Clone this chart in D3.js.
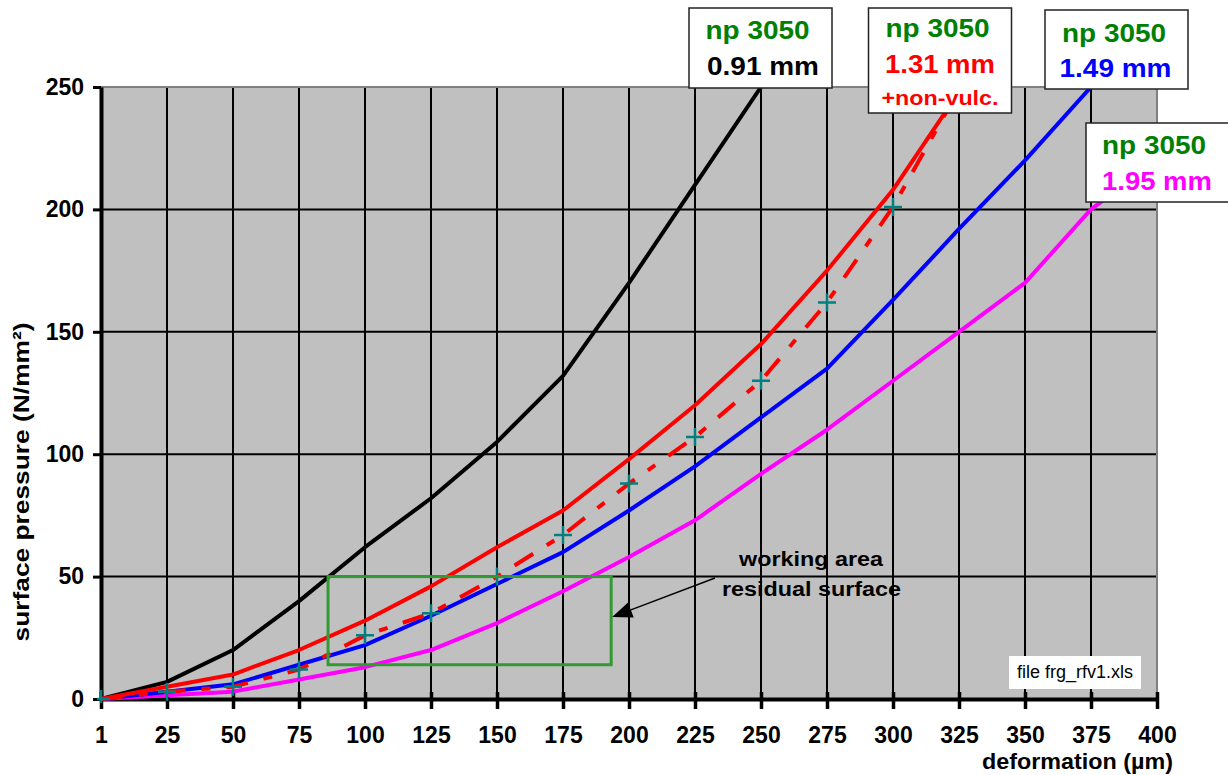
<!DOCTYPE html>
<html>
<head>
<meta charset="utf-8">
<script src="https://cdn.jsdelivr.net/npm/d3@7"></script>
<style>
  body { margin: 0; background: #fff; }
  svg { display: block; }
  text { font-family: "Liberation Sans", Arial, Helvetica, sans-serif; }
</style>
</head>
<body>
<svg id="chart" width="1228" height="775"></svg>
<script>
// deformation steps (µm), shown as evenly spaced categories
const categories = [1, 25, 50, 75, 100, 125, 150, 175, 200, 225, 250, 275, 300, 325, 350, 375, 400];
const yTicks = [0, 50, 100, 150, 200, 250];

// surface pressure (N/mm²) per deformation step, np 3050 samples
const thick091 = [0, 7, 20, 40, 62, 82, 105, 132, 170, 210, 250];
const thick131 = [0, 5, 10, 20, 32, 46, 62, 77, 98, 120, 145, 175, 208, 248];
const thick131NonVulc = [0, 3, 5, 12, 26, 35, 50, 67, 88, 107, 130, 162, 201, 249];
const thick149 = [0, 3, 6, 14, 22, 34, 47, 60, 77, 95, 115, 135, 163, 192, 220, 250];
const thick195 = [0, 1.5, 3, 8, 13, 20, 31, 44, 58, 73, 92, 110, 130, 150, 170, 200, 220];

// working area: category index span and pressure span
const workIdx = [3.44, 7.73];
const workPressure = [14, 50];

const svg = d3.select("#chart");
const plotL = 101, plotR = 1157, plotT = 87, plotB = 699;

const x = d3.scalePoint().domain(categories).range([plotL, plotR]);
const xi = d3.scaleLinear().domain([0, categories.length - 1]).range([plotL, plotR]);
const y = d3.scaleLinear().domain([0, 250]).range([plotB, plotT]);

// plot area
svg.append("rect")
  .attr("x", x(categories[0])).attr("y", y(250))
  .attr("width", x(categories[categories.length - 1]) - x(categories[0]))
  .attr("height", y(0) - y(250))
  .attr("fill", "#c0c0c0");

svg.append("defs").append("clipPath").attr("id", "plotClip")
  .append("rect")
  .attr("x", plotL - 4).attr("y", plotT)
  .attr("width", plotR - plotL + 4).attr("height", plotB - plotT + 4);

// grid
const grid = svg.append("g");
grid.selectAll("line.v").data(categories.slice(1, -1)).join("line")
  .attr("class", "v")
  .attr("x1", d => x(d)).attr("x2", d => x(d))
  .attr("y1", y(0)).attr("y2", y(250))
  .attr("stroke", "#000").attr("stroke-width", 2);
grid.selectAll("line.h").data(yTicks.slice(1, -1)).join("line")
  .attr("class", "h")
  .attr("x1", plotL).attr("x2", plotR)
  .attr("y1", d => y(d)).attr("y2", d => y(d))
  .attr("stroke", "#000").attr("stroke-width", 2);

// plot border (top and right)
svg.append("path")
  .attr("d", `M${plotL},${y(250)}H${plotR}V${y(0)}`)
  .attr("fill", "none").attr("stroke", "#808080").attr("stroke-width", 2);

// axes
const yAxis = svg.append("g").attr("transform", `translate(${plotL},0)`)
  .call(d3.axisLeft(y).tickValues(yTicks).tickSizeInner(8).tickSizeOuter(0).tickPadding(9));
yAxis.select(".domain").attr("stroke", "#000").attr("stroke-width", 4);
yAxis.selectAll(".tick line").attr("stroke", "#000").attr("stroke-width", 3);
yAxis.selectAll(".tick text")
  .attr("font-size", 23).attr("font-weight", "bold").attr("fill", "#000")
  .style("font-family", "'Liberation Sans', Arial, sans-serif");

const xAxis = svg.append("g").attr("transform", `translate(0,${plotB})`)
  .call(d3.axisBottom(x).tickSizeInner(9).tickSizeOuter(0));
xAxis.select(".domain").attr("stroke", "#000").attr("stroke-width", 4);
xAxis.selectAll(".tick line").attr("y1", -7).attr("y2", 10)
  .attr("stroke", "#000").attr("stroke-width", 3.5);
xAxis.selectAll(".tick text")
  .attr("y", 44).attr("dy", null)
  .attr("font-size", 23).attr("font-weight", "bold").attr("fill", "#000")
  .style("font-family", "'Liberation Sans', Arial, sans-serif");

// series
const line = d3.line().x((d, i) => x(categories[i])).y(d => y(d));
const series = svg.append("g").attr("clip-path", "url(#plotClip)");
const drawSeries = (vals, color, dash) => {
  const p = series.append("path").datum(vals)
    .attr("d", line)
    .attr("fill", "none")
    .attr("stroke", color)
    .attr("stroke-width", 4)
    .attr("stroke-linejoin", "round");
  if (dash) p.attr("stroke-dasharray", dash);
  return p;
};
drawSeries(thick091, "#000000");
drawSeries(thick195, "#ff00ff");
drawSeries(thick149, "#0000ff");
drawSeries(thick131, "#ff0000");
drawSeries(thick131NonVulc, "#ff0000", "22,16,9,16");

// "+" markers on the non-vulcanised series
series.selectAll("path.mark").data(thick131NonVulc).join("path")
  .attr("class", "mark")
  .attr("transform", (d, i) => `translate(${x(categories[i])},${y(d)})`)
  .attr("d", "M-9,0H9M0,-9V9")
  .attr("stroke", "#008080").attr("stroke-width", 2.5).attr("fill", "none");

// axis titles
svg.append("text")
  .attr("x", 1173).attr("y", 769)
  .attr("text-anchor", "end")
  .attr("font-size", 22).attr("font-weight", "bold")
  .attr("textLength", 191).attr("lengthAdjust", "spacingAndGlyphs")
  .text("deformation (µm)");

svg.append("text")
  .attr("transform", `translate(29,482) rotate(-90)`)
  .attr("text-anchor", "middle")
  .attr("font-size", 22).attr("font-weight", "bold")
  .attr("textLength", 319).attr("lengthAdjust", "spacingAndGlyphs")
  .text("surface pressure (N/mm²)");

// working area rectangle
svg.append("rect")
  .attr("x", xi(workIdx[0])).attr("y", y(workPressure[1]))
  .attr("width", xi(workIdx[1]) - xi(workIdx[0]))
  .attr("height", y(workPressure[0]) - y(workPressure[1]))
  .attr("fill", "none").attr("stroke", "#339933").attr("stroke-width", 3);

// annotation text and arrow
const note = svg.append("g");
note.append("text").attr("x", 811).attr("y", 566).attr("text-anchor", "middle")
  .attr("font-size", 20).attr("font-weight", "bold")
  .attr("textLength", 144).attr("lengthAdjust", "spacingAndGlyphs")
  .text("working area");
note.append("text").attr("x", 811.5).attr("y", 596).attr("text-anchor", "middle")
  .attr("font-size", 20).attr("font-weight", "bold")
  .attr("textLength", 179).attr("lengthAdjust", "spacingAndGlyphs")
  .text("residual surface");

const tip = [xi(workIdx[1]) + 1, y(33.5)];
const tail = [715, 578];
const ang = Math.atan2(tail[1] - tip[1], tail[0] - tip[0]);
const hl = 20, hw = 8;
const bx = tip[0] + hl * Math.cos(ang), by = tip[1] + hl * Math.sin(ang);
note.append("line")
  .attr("x1", tail[0]).attr("y1", tail[1]).attr("x2", bx).attr("y2", by)
  .attr("stroke", "#000").attr("stroke-width", 1.5);
note.append("path")
  .attr("d", `M${tip[0]},${tip[1]}L${bx - hw * Math.sin(ang)},${by + hw * Math.cos(ang)}L${bx + hw * Math.sin(ang)},${by - hw * Math.cos(ang)}Z`)
  .attr("fill", "#000");

// series label boxes
const labelBoxes = [
  { x: 689, y: 8, w: 143, h: 80, lines: [
    { t: "np 3050", c: "#008000", cx: 757.5, by: 39, len: 104, fs: 26 },
    { t: "0.91 mm", c: "#000000", cx: 763, by: 75, len: 112, fs: 26 } ] },
  { x: 868.5, y: 8, w: 143, h: 105, lines: [
    { t: "np 3050", c: "#008000", cx: 937.5, by: 37, len: 104, fs: 26 },
    { t: "1.31 mm", c: "#ff0000", cx: 940, by: 73, len: 110, fs: 26 },
    { t: "+non-vulc.", c: "#ff0000", cx: 940, by: 105, len: 117, fs: 21 } ] },
  { x: 1045, y: 10, w: 143, h: 79, lines: [
    { t: "np 3050", c: "#008000", cx: 1114, by: 42, len: 104, fs: 26 },
    { t: "1.49 mm", c: "#0000ff", cx: 1115.5, by: 77, len: 112, fs: 26 } ] },
  { x: 1086, y: 123, w: 160, h: 79, lines: [
    { t: "np 3050", c: "#008000", cx: 1154, by: 154, len: 104, fs: 26 },
    { t: "1.95 mm", c: "#ff00ff", cx: 1157, by: 190, len: 110, fs: 26 } ] }
];
labelBoxes.forEach(b => {
  const g = svg.append("g");
  g.append("rect").attr("x", b.x).attr("y", b.y).attr("width", b.w).attr("height", b.h)
    .attr("fill", "#fff").attr("stroke", "#222").attr("stroke-width", 1.5);
  b.lines.forEach(l => {
    g.append("text").attr("x", l.cx).attr("y", l.by).attr("text-anchor", "middle")
      .attr("font-size", l.fs).attr("font-weight", "bold").attr("fill", l.c)
      .attr("textLength", l.len).attr("lengthAdjust", "spacingAndGlyphs")
      .text(l.t);
  });
});

// file tag
const tag = svg.append("g");
tag.append("rect").attr("x", 1009).attr("y", 656).attr("width", 132).attr("height", 33).attr("fill", "#fff");
tag.append("text").attr("x", 1075).attr("y", 678).attr("text-anchor", "middle")
  .attr("font-size", 18).attr("fill", "#000").text("file frg_rfv1.xls");
</script>
</body>
</html>
